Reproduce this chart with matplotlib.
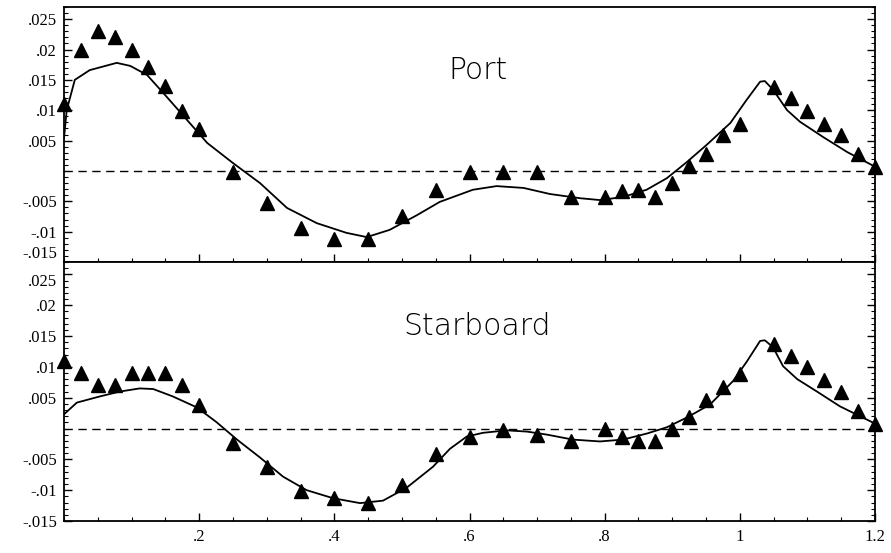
import matplotlib
matplotlib.use("Agg")
import matplotlib.pyplot as plt
from matplotlib.ticker import MultipleLocator, FixedLocator

# ---------------- data ----------------
x_marks = [0.0, 0.025, 0.05, 0.075, 0.1, 0.125, 0.15, 0.175, 0.2, 0.25, 0.3, 0.35,
           0.4, 0.45, 0.5, 0.55, 0.6, 0.65, 0.7, 0.75, 0.8, 0.825, 0.85, 0.875,
           0.9, 0.925, 0.95, 0.975, 1.0, 1.05, 1.075, 1.1, 1.125, 1.15, 1.175, 1.2]

port_marks = [0.011, 0.020, 0.023, 0.022, 0.020, 0.0171, 0.014, 0.0099, 0.0069,
              -0.0002, -0.0053, -0.0094, -0.0112, -0.0112, -0.0074, -0.0031,
              -0.0001, -0.0001, -0.0001, -0.0043, -0.0043, -0.0033, -0.0031, -0.0043,
              -0.002, 0.0008, 0.0028, 0.0059, 0.0077, 0.0139, 0.012, 0.0099, 0.0077,
              0.0059, 0.0028, 0.0007]

star_marks = [0.011, 0.009, 0.007, 0.007, 0.009, 0.009, 0.009, 0.007, 0.0038,
              -0.0023, -0.0062, -0.0101, -0.0112, -0.012, -0.0091, -0.0042,
              -0.0013, -0.0002, -0.0011, -0.0021, 0.0000, -0.0014, -0.0021, -0.0021,
              0.0000, 0.0018, 0.0047, 0.0068, 0.0088, 0.0137, 0.0117, 0.0099, 0.0078,
              0.0059, 0.0028, 0.0008]

port_curve_x = [0.0, 0.004, 0.016, 0.038, 0.078, 0.098, 0.123, 0.152, 0.182, 0.212,
                0.25, 0.29, 0.33, 0.374, 0.418, 0.448, 0.482, 0.522, 0.556, 0.605,
                0.64, 0.68, 0.719, 0.764, 0.793, 0.827, 0.862, 0.892, 0.922, 0.951,
                0.986, 1.01, 1.03, 1.037, 1.049, 1.07, 1.089, 1.123, 1.159, 1.2]
port_curve_y = [0.0054, 0.010, 0.015, 0.0166, 0.0178, 0.0173, 0.0158, 0.0122, 0.0084,
                0.0046, 0.0013, -0.002, -0.0061, -0.0086, -0.0102, -0.0109, -0.0097,
                -0.0073, -0.0051, -0.0031, -0.0025, -0.0028, -0.0038, -0.0045, -0.0048,
                -0.0043, -0.0031, -0.0012, 0.0015, 0.0043, 0.0079, 0.0117, 0.0147,
                0.0148, 0.0134, 0.010, 0.0081, 0.0056, 0.0031, 0.0007]

star_curve_x = [0.0, 0.019, 0.053, 0.083, 0.112, 0.132, 0.161, 0.197, 0.226, 0.256,
                0.29, 0.324, 0.359, 0.398, 0.438, 0.472, 0.507, 0.546, 0.571, 0.596,
                0.62, 0.655, 0.685, 0.715, 0.753, 0.793, 0.827, 0.863, 0.892, 0.922,
                0.956, 0.99, 1.01, 1.03, 1.037, 1.049, 1.064, 1.085, 1.114, 1.148, 1.2]
star_curve_y = [0.0023, 0.0042, 0.0052, 0.006, 0.0065, 0.0064, 0.0052, 0.0034, 0.001,
                -0.0018, -0.0047, -0.0078, -0.010, -0.0113, -0.0121, -0.0117, -0.0096,
                -0.0062, -0.0033, -0.0013, -0.0007, -0.0003, -0.0005, -0.001, -0.0018,
                -0.0021, -0.0018, -0.0008, 0.0002, 0.0018, 0.0039, 0.0077, 0.0108,
                0.0142, 0.0143, 0.0132, 0.0101, 0.008, 0.006, 0.0036, 0.0008]

panel_titles = ["Port", "Starboard"]
y_tick_values = [-0.015, -0.01, -0.005, 0.005, 0.01, 0.015, 0.02, 0.025]
y_tick_labels = ["-.015", "-.01", "-.005", ".005", ".01", ".015", ".02", ".025"]
x_tick_values = [0.2, 0.4, 0.6, 0.8, 1.0, 1.2]
x_tick_labels = [".2", ".4", ".6", ".8", "1", "1.2"]

# ---------------- figure ----------------
W, H = 891, 553
fig = plt.figure(figsize=(W / 100, H / 100), dpi=100)
left = 64 / W
width = (875 - 64) / W
ax_top = fig.add_axes([left, 1 - 262 / H, width, (262 - 7) / H])
ax_bot = fig.add_axes([left, 1 - 521 / H, width, (521 - 262) / H], sharex=ax_top)

serif = "Liberation Serif"
title_font = ["DejaVu Sans"]

panels = [(ax_top, port_marks, port_curve_x, port_curve_y, panel_titles[0], 0.0166),
          (ax_bot, star_marks, star_curve_x, star_curve_y, panel_titles[1], 0.0165)]

for ax, marks, cx, cy, title, ty in panels:
    ax.set_xlim(0, 1.2)
    ax.set_ylim(-0.015, 0.027)
    ax.axhline(0, color="black", lw=1.0, ls=(0, (6, 4)))
    ax.plot(cx, cy, color="black", lw=1.3, solid_joinstyle="round")
    ax.plot(x_marks, marks, ls="none", marker="^", ms=9.5, color="black",
            markeredgecolor="black", clip_on=False, zorder=5)
    ax.text(0.612, ty, title, ha="center", va="center", fontsize=21.5,
            family=title_font, fontweight="light", color="black")
    ax.yaxis.set_major_locator(FixedLocator(y_tick_values))
    ax.set_yticklabels(y_tick_labels, fontfamily=serif, fontsize=12)
    ax.yaxis.set_minor_locator(MultipleLocator(0.001))
    ax.xaxis.set_major_locator(FixedLocator(x_tick_values))
    ax.xaxis.set_minor_locator(MultipleLocator(0.05))
    ax.tick_params(axis="both", which="major", direction="in", length=6, width=1.0,
                   right=True, top=False)
    ax.tick_params(axis="both", which="minor", direction="in", length=3, width=0.8,
                   right=True, top=False)
    ax.tick_params(axis="y", which="major", pad=5)
    for s in ax.spines.values():
        s.set_linewidth(1.3)

ax_top.tick_params(axis="x", labelbottom=False)
ax_bot.set_xticklabels(x_tick_labels, fontfamily=serif, fontsize=12)
ax_bot.tick_params(axis="x", pad=6)

# keep the two labels that meet at the panel seam apart
ax_top.get_yticklabels()[0].set_verticalalignment("bottom")
ax_bot.get_yticklabels()[-1].set_verticalalignment("top")

fig.savefig("out.png", dpi=100)
